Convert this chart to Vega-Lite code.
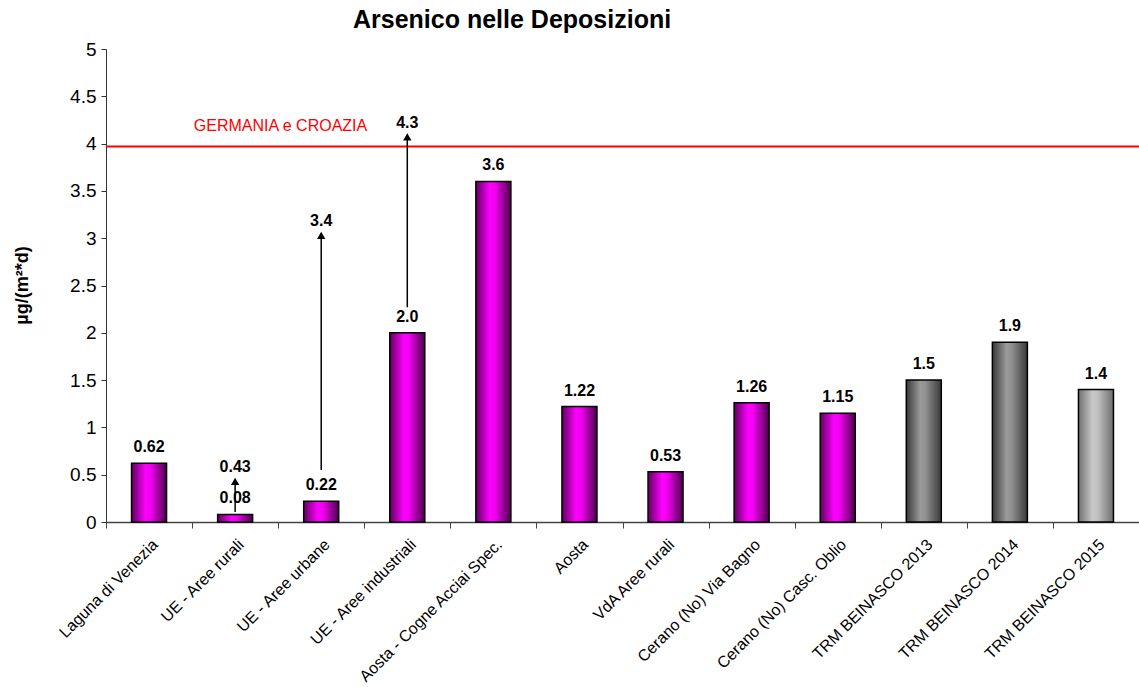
{
"$schema":"https://vega.github.io/schema/vega-lite/v6.json",
"width":1033,"height":473,
"autosize":"none",
"padding":{"left":106,"top":49,"right":0,"bottom":165},
"config":{"font":"Liberation Sans","view":{"stroke":null},
 "axisY":{"titleFontSize":18,"titleFontWeight":"bold","titleColor":"black","titleX":-84,"titleY":236,"titleAngle":-90,"titleAlign":"center","titleBaseline":"middle","grid":false,"tickSize":5,"tickColor":"#333","domainColor":"#333","labelFontSize":19,"labelColor":"black","labelPadding":5,"format":"~g"}},
"title":{"text":"Arsenico nelle Deposizioni","fontSize":25,"fontWeight":"bold","anchor":"start","dx":340,"offset":7,"color":"black"},
"datasets":{
"bars":[
{"cat":"Laguna di Venezia","v":0.62,"label":"0.62"},
{"cat":"UE - Aree rurali","v":0.08,"label":"0.08"},
{"cat":"UE - Aree urbane","v":0.22,"label":"0.22"},
{"cat":"UE - Aree industriali","v":2.0,"label":"2.0"},
{"cat":"Aosta - Cogne Acciai Spec.","v":3.6,"label":"3.6"},
{"cat":"Aosta","v":1.22,"label":"1.22"},
{"cat":"VdA Aree rurali","v":0.53,"label":"0.53"},
{"cat":"Cerano (No) Via Bagno","v":1.26,"label":"1.26"},
{"cat":"Cerano (No) Casc. Oblio","v":1.15,"label":"1.15"},
{"cat":"TRM BEINASCO 2013","v":1.5,"label":"1.5"},
{"cat":"TRM BEINASCO 2014","v":1.9,"label":"1.9"},
{"cat":"TRM BEINASCO 2015","v":1.4,"label":"1.4"}
],
"arrows":[
{"cat":"UE - Aree rurali","from":0.105,"to":0.43,"label":"0.43"},
{"cat":"UE - Aree urbane","from":0.55,"to":3.03,"label":"3.4"},
{"cat":"UE - Aree industriali","from":2.27,"to":4.07,"label":"4.3"}
],
"limit":[{"cat":"UE - Aree urbane","y":3.97,"label":"GERMANIA e CROAZIA"}]
},
"encoding":{
"x":{"field":"cat","type":"nominal","sort":null,
 "scale":{"domain":["Laguna di Venezia","UE - Aree rurali","UE - Aree urbane","UE - Aree industriali","Aosta - Cogne Acciai Spec.","Aosta","VdA Aree rurali","Cerano (No) Via Bagno","Cerano (No) Casc. Oblio","TRM BEINASCO 2013","TRM BEINASCO 2014","TRM BEINASCO 2015"],"paddingInner":0,"paddingOuter":0},
 "axis":{"title":null,"labelAngle":-45,"labelFontSize":16,"labelColor":"black","labelPadding":8,"labelLimit":0,"tickBand":"extent","tickSize":6,"tickColor":"#444","domainColor":"#444","domainWidth":1.5}}
},
"layer":[
{"data":{"name":"limit"},"mark":{"type":"rule","color":"#ff0000","strokeWidth":2},
 "encoding":{"x":null,"y":{"field":"y","type":"quantitative","title":"µg/(m²*d)","scale":{"domain":[0,5],"nice":false},"axis":{"values":[0,0.5,1,1.5,2,2.5,3,3.5,4,4.5,5]}}}},
{"data":{"name":"limit"},"mark":{"type":"text","color":"#ff0000","fontSize":16,"align":"right","baseline":"middle","dx":46,"dy":-20},
 "encoding":{"y":{"field":"y","type":"quantitative","title":"µg/(m²*d)"},"text":{"field":"label"}}},
{"data":{"name":"bars"},"transform":[{"filter":{"not":{"field":"cat","oneOf":["TRM BEINASCO 2013","TRM BEINASCO 2014","TRM BEINASCO 2015"]}}}],
 "mark":{"type":"bar","size":35,"stroke":"black","strokeWidth":1.5,"fill":{"gradient":"linear","x1":0,"x2":1,"y1":0,"y2":0,"stops":[{"offset":0,"color":"#5e005e"},{"offset":0.4,"color":"#ff00ff"},{"offset":0.55,"color":"#f000f0"},{"offset":1,"color":"#4a004a"}]}},
 "encoding":{"y":{"field":"v","type":"quantitative","title":"µg/(m²*d)"}}},
{"data":{"name":"bars"},"transform":[{"filter":{"field":"cat","oneOf":["TRM BEINASCO 2013","TRM BEINASCO 2014"]}}],
 "mark":{"type":"bar","size":35,"stroke":"black","strokeWidth":1.5,"fill":{"gradient":"linear","x1":0,"x2":1,"y1":0,"y2":0,"stops":[{"offset":0,"color":"#383838"},{"offset":0.4,"color":"#9a9a9a"},{"offset":0.55,"color":"#909090"},{"offset":1,"color":"#3a3a3a"}]}},
 "encoding":{"y":{"field":"v","type":"quantitative","title":"µg/(m²*d)"}}},
{"data":{"name":"bars"},"transform":[{"filter":{"field":"cat","oneOf":["TRM BEINASCO 2015"]}}],
 "mark":{"type":"bar","size":35,"stroke":"black","strokeWidth":1.5,"fill":{"gradient":"linear","x1":0,"x2":1,"y1":0,"y2":0,"stops":[{"offset":0,"color":"#707070"},{"offset":0.4,"color":"#c8c8c8"},{"offset":0.55,"color":"#c0c0c0"},{"offset":1,"color":"#6e6e6e"}]}},
 "encoding":{"y":{"field":"v","type":"quantitative","title":"µg/(m²*d)"}}},
{"data":{"name":"bars"},"mark":{"type":"text","fontSize":16,"fontWeight":"bold","color":"black","baseline":"middle","dy":-16},
 "encoding":{"y":{"field":"v","type":"quantitative","title":"µg/(m²*d)"},"text":{"field":"label"}}},
{"data":{"name":"arrows"},"mark":{"type":"rule","color":"black","strokeWidth":1.5},
 "encoding":{"y":{"field":"from","type":"quantitative","title":"µg/(m²*d)"},"y2":{"field":"to"}}},
{"data":{"name":"arrows"},"mark":{"type":"point","shape":"triangle-up","filled":true,"color":"black","opacity":1,"size":70},
 "encoding":{"y":{"field":"to","type":"quantitative","title":"µg/(m²*d)"}}},
{"data":{"name":"arrows"},"mark":{"type":"text","fontSize":16,"fontWeight":"bold","color":"black","baseline":"middle","dy":-14},
 "encoding":{"y":{"field":"to","type":"quantitative","title":"µg/(m²*d)"},"text":{"field":"label"}}}
]
}
